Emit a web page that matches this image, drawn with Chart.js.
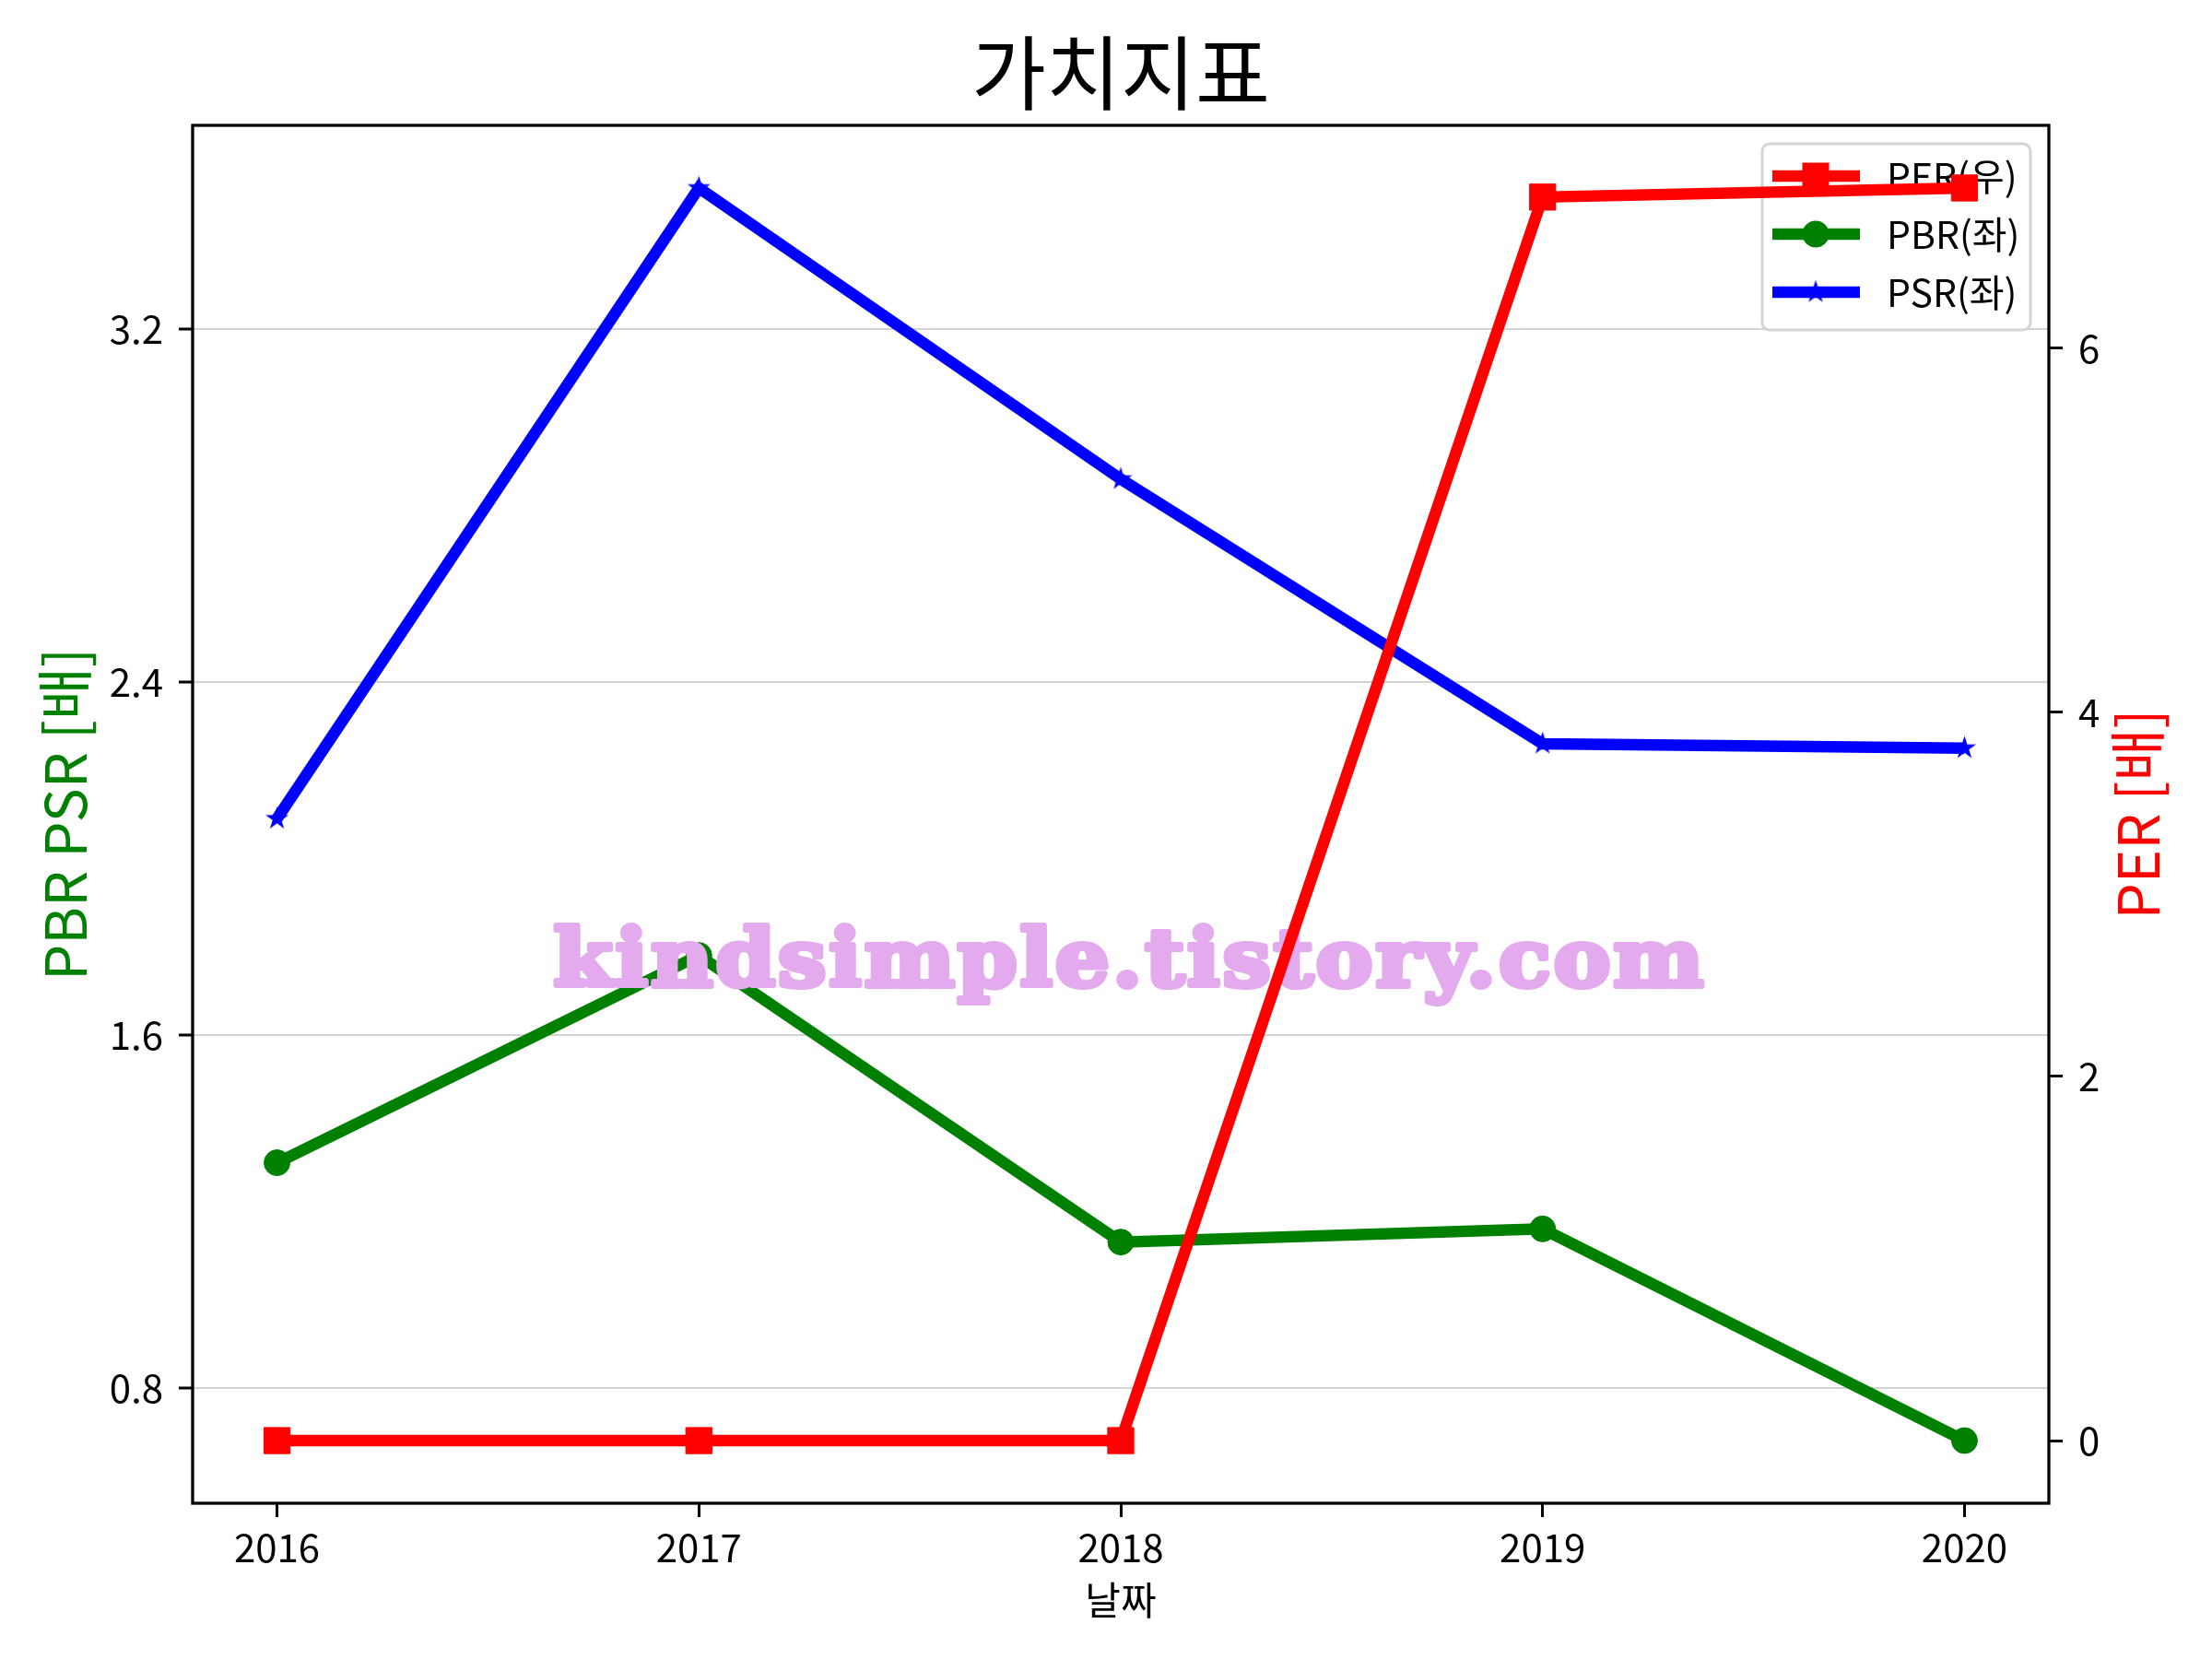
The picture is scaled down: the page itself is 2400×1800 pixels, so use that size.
<!DOCTYPE html>
<html>
<head>
<meta charset="utf-8">
<title>가치지표</title>
<script src="https://cdn.jsdelivr.net/npm/chart.js@4.4.1/dist/chart.umd.min.js"></script>
<style>
    body { margin: 0; background: #fff; }
    #wrap { width: 2400px; height: 1800px; }
</style>
</head>
<body>
<div id="wrap"><canvas id="valueChart" width="2400" height="1800"></canvas></div>
<script>
// chart data
const years = [2016, 2017, 2018, 2019, 2020];
const perValues = [0, 0, 0, 6.83, 6.88];
const pbrValues = [1.31, 1.78, 1.13, 1.16, 0.68];
const psrValues = [2.09, 3.52, 2.86, 2.26, 2.25];
const leftTicks = [0.8, 1.6, 2.4, 3.2];
const rightTicks = [0, 2, 4, 6];
const seriesNames = ['PER(우)', 'PBR(좌)', 'PSR(좌)'];
const seriesColors = ['#ff0000', '#008000', '#0000ff'];

const FONT = "'Noto Sans CJK KR', 'Noto Sans', sans-serif";
Chart.defaults.font.family = FONT;
Chart.defaults.color = '#000';

// 5% margin on each side, like matplotlib's autoscale
function padRange(values) {
    const lo = Math.min(...values);
    const hi = Math.max(...values);
    const pad = (hi - lo) * 0.05;
    return { min: lo - pad, max: hi + pad };
}
const xRange = padRange(years);
const leftRange = padRange(pbrValues.concat(psrValues));
const rightRange = padRange(perValues);

// filled five point star (matplotlib '*' marker)
function makeStar(color, r) {
    const c = document.createElement('canvas');
    const size = Math.ceil(r * 2 + 2);
    c.width = size;
    c.height = size;
    const g = c.getContext('2d');
    g.fillStyle = color;
    g.beginPath();
    for (let i = 0; i < 10; i++) {
        const rad = i % 2 === 0 ? r : r * 0.382;
        const a = -Math.PI / 2 + i * Math.PI / 5;
        const px = size / 2 + rad * Math.cos(a);
        const py = size / 2 + rad * Math.sin(a);
        if (i === 0) g.moveTo(px, py); else g.lineTo(px, py);
    }
    g.closePath();
    g.fill();
    return c;
}
const starImg = makeStar(seriesColors[2], 13.2);

const toPoints = vals => years.map((yr, i) => ({ x: yr, y: vals[i] }));

function drawMarker(ctx, i, x, y) {
    ctx.fillStyle = seriesColors[i];
    if (i === 0) {
        ctx.fillRect(x - 14.5, y - 14.5, 29, 29);
    } else if (i === 1) {
        ctx.beginPath();
        ctx.arc(x, y, 14.5, 0, Math.PI * 2);
        ctx.fill();
    } else {
        ctx.drawImage(starImg, x - starImg.width / 2, y - starImg.height / 2);
    }
}

function drawWatermark(chart) {
    const { ctx, chartArea } = chart;
    const text = 'kindsimple.tistory.com';
    const cx = chartArea.left + chartArea.width * 0.505;
    const base = chartArea.top + chartArea.height * 0.625;
    ctx.save();
    ctx.font = "bold 86px 'DejaVu Serif', serif";
    ctx.letterSpacing = '3px';
    const w = ctx.measureText(text).width;
    const sx = (1257 - 6) / w;
    ctx.translate(cx, base);
    ctx.scale(sx, 1);
    ctx.textAlign = 'center';
    ctx.textBaseline = 'alphabetic';
    ctx.fillStyle = 'rgb(228,170,238)';
    ctx.strokeStyle = 'rgb(228,170,238)';
    ctx.lineWidth = 6;
    ctx.lineJoin = 'round';
    ctx.strokeText(text, 0, 0);
    ctx.fillText(text, 0, 0);
    ctx.restore();
}

function drawLegend(chart) {
    const { ctx, chartArea } = chart;
    const w = 291, h = 202;
    const x0 = chartArea.right - 20 - w;
    const y0 = chartArea.top + 20;
    ctx.save();
    ctx.beginPath();
    ctx.roundRect(x0, y0, w, h, 8);
    ctx.fillStyle = 'rgba(255,255,255,0.8)';
    ctx.fill();
    ctx.lineWidth = 3;
    ctx.strokeStyle = '#d5d5d5';
    ctx.stroke();
    seriesNames.forEach((name, i) => {
        const y = y0 + 35 + i * 63;
        ctx.strokeStyle = seriesColors[i];
        ctx.lineWidth = 12.5;
        ctx.beginPath();
        ctx.moveTo(x0 + 11, y);
        ctx.lineTo(x0 + 106, y);
        ctx.stroke();
        drawMarker(ctx, i, x0 + 58, y);
        ctx.fillStyle = '#000';
        ctx.font = `41px ${FONT}`;
        ctx.textAlign = 'left';
        ctx.textBaseline = 'middle';
        ctx.fillText(name, x0 + 135, y);
    });
    ctx.restore();
}

const overlayPlugin = {
    id: 'overlay',
    afterDatasetDraw(chart, args) {
        // PSR and PBR are drawn, PER comes next on top
        if (args.index === 1) {
            drawWatermark(chart);
            drawLegend(chart);
        }
    },
    afterDraw(chart) {
        const { ctx, chartArea } = chart;
        ctx.save();
        ctx.strokeStyle = '#000';
        ctx.lineWidth = 3.3;
        ctx.strokeRect(chartArea.left, chartArea.top, chartArea.width, chartArea.height);

        // right axis title, reads bottom to top
        ctx.translate(chartArea.right + 96, (chartArea.top + chartArea.bottom) / 2);
        ctx.rotate(-Math.PI / 2);
        ctx.font = `62px ${FONT}`;
        ctx.fillStyle = '#ff0000';
        ctx.textAlign = 'center';
        ctx.textBaseline = 'middle';
        ctx.fillText('PER [배]', 0, 0);
        ctx.restore();
    }
};

const lineStyle = i => ({
    borderColor: seriesColors[i],
    backgroundColor: seriesColors[i],
    pointBackgroundColor: seriesColors[i],
    pointBorderColor: seriesColors[i],
    borderWidth: 12.5,
    pointBorderWidth: 1,
    tension: 0
});

const ctx = document.getElementById('valueChart').getContext('2d');
new Chart(ctx, {
    type: 'line',
    data: {
        datasets: [
            { label: seriesNames[0], data: toPoints(perValues), yAxisID: 'yR', ...lineStyle(0), pointStyle: 'rect', pointRadius: 20 },
            { label: seriesNames[1], data: toPoints(pbrValues), yAxisID: 'y', ...lineStyle(1), pointStyle: 'circle', pointRadius: 14 },
            { label: seriesNames[2], data: toPoints(psrValues), yAxisID: 'y', ...lineStyle(2), pointStyle: starImg, pointRadius: 13 }
        ]
    },
    options: {
        responsive: false,
        animation: false,
        devicePixelRatio: 1,
        layout: { padding: 0 },
        plugins: {
            legend: { display: false },
            tooltip: { enabled: false },
            title: {
                display: true,
                text: '가치지표',
                fullSize: false,
                color: '#000',
                font: { size: 88, weight: 'normal' },
                padding: { top: 26, bottom: 4.4 }
            }
        },
        scales: {
            x: {
                type: 'linear',
                position: 'bottom',
                min: xRange.min,
                max: xRange.max,
                afterBuildTicks: axis => { axis.ticks = years.map(v => ({ value: v })); },
                afterFit: axis => { axis.height = 169; },
                border: { display: false },
                grid: { drawOnChartArea: false, tickColor: '#000', tickWidth: 3, tickLength: 15 },
                ticks: { font: { size: 42 }, color: '#000', padding: 8, maxRotation: 0, callback: v => String(v) },
                title: { display: true, text: '날짜', color: '#000', font: { size: 42 }, padding: { bottom: 39 } }
            },
            y: {
                position: 'left',
                min: leftRange.min,
                max: leftRange.max,
                afterBuildTicks: axis => { axis.ticks = leftTicks.map(v => ({ value: v })); },
                afterFit: axis => { axis.width = 209; },
                border: { display: false },
                grid: { color: '#d3d3d3', lineWidth: 2, tickColor: '#000', tickWidth: 3, tickLength: 15 },
                ticks: { font: { size: 42 }, color: '#000', padding: 17, callback: v => v.toFixed(1) },
                title: { display: true, text: 'PBR PSR [배]', color: '#008000', font: { size: 62 }, padding: { top: 33 } }
            },
            yR: {
                position: 'right',
                min: rightRange.min,
                max: rightRange.max,
                afterBuildTicks: axis => { axis.ticks = rightTicks.map(v => ({ value: v })); },
                afterFit: axis => { axis.width = 177; },
                border: { display: false },
                grid: { drawOnChartArea: false, tickColor: '#000', tickWidth: 3, tickLength: 15 },
                ticks: { font: { size: 42 }, color: '#000', padding: 17, callback: v => String(v) }
            }
        }
    },
    plugins: [overlayPlugin]
});
</script>
</body>
</html>
